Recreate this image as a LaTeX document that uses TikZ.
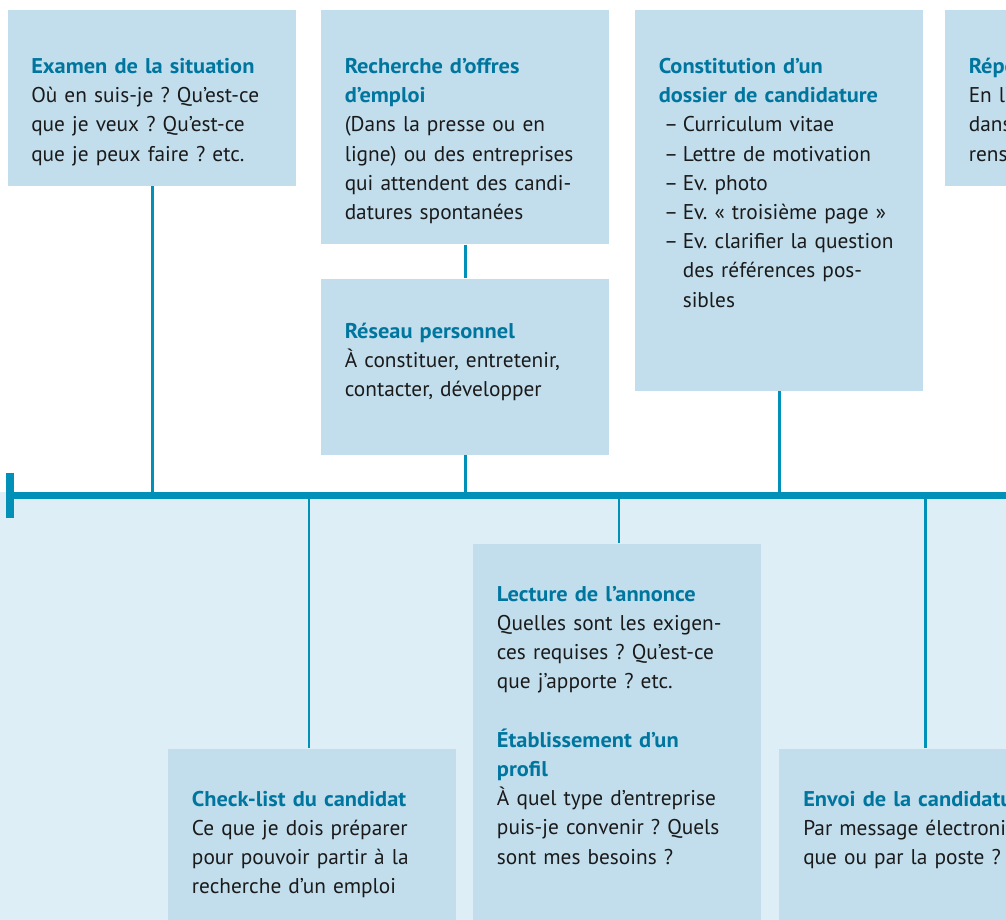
\documentclass[tikz,border=0pt]{standalone}
\usepackage{fontspec}
\setmainfont{PT Sans}[BoldFeatures={FakeStretch=1.05}]
\usetikzlibrary{calc}
\definecolor{lineblue}{HTML}{0090B8}
\definecolor{titleblue}{HTML}{00769F}
\definecolor{boxblue}{HTML}{C2DEED}
\definecolor{paleblue}{HTML}{DEEEF6}
\definecolor{ink}{HTML}{1A1A1A}
\frenchspacing
\newcommand{\ttl}[1]{{\bfseries\color{titleblue}#1}}
\newcommand{\itm}{\makebox[18pt][r]{--\hspace{3.5pt}}}
\tikzstyle{box} = [fill=boxblue, anchor=north west, inner sep=0pt, minimum width=216pt]
\tikzstyle{txt} = [anchor=base west, inner sep=0pt, text width=210pt, align=left, text=ink, font=\fontsize{16}{21.9}\selectfont]
\tikzstyle{link} = [draw=lineblue, line width=2pt]

\begin{document}
\begin{tikzpicture}[x=0.75pt,y=-0.75pt]
\useasboundingbox (0,0) rectangle (1006,920);
\clip (0,0) rectangle (1006,920);
\fill[paleblue] (0,492) rectangle (1006,920);

\node[box, minimum height=132pt](exa) at (8,9.5) {};
\node[box, minimum height=175.9pt](rec) at (321,9.5) {};
\node[box, minimum height=132pt](res) at (321,278.3) {};
\node[box, minimum height=285.8pt](con) at (635,9.5) {};
\node[box, minimum height=132pt](rep) at (945,9.5) {};
\node[box, minimum height=150pt](che) at (167.7,748.3) {};
\node[box, minimum height=300pt](lec) at (472.7,543.3) {};
\node[box, minimum height=150pt](env) at (779,748.3) {};

\coordinate (tl-a) at (6,495.5);
\coordinate (tl-b) at (1010,495.5);
\coordinate (t-che) at (309,495.5);
\coordinate (t-lec) at (619,495.5);
\coordinate (t-env) at (925.3,495.5);

\draw[link](exa.south) -- (exa.south |- tl-a);
\draw[link](rec.south) -- (res.north);
\draw[link](res.south) -- (res.south |- tl-a);
\draw[link](con.south) -- (con.south |- tl-a);
\draw[link](t-che) -- (t-che |- che.north);
\draw[link](t-lec) -- (t-lec |- lec.north);
\draw[link](t-env) -- (t-env |- env.north);

\draw[lineblue, line width=5.7pt](tl-a) -- (tl-b);
\draw[lineblue, line width=6pt](10,472.7) -- (10,518.3);

\node[txt](exa-t) at ([shift={(23,64)}]exa.north west) {\ttl{Examen de la situation}\\
Où en suis-je~? Qu’est-ce\\ que je veux~? Qu’est-ce\\ que je peux faire~? etc.};
\node[txt](rec-t) at ([shift={(23.5,64)}]rec.north west) {\ttl{Recherche d’offres}\\ \ttl{d’emploi}\\
(Dans la presse ou en\\ ligne) ou des entreprises\\ qui attendent des candi-\\ datures spontanées};
\node[txt](res-t) at ([shift={(23.5,60)}]res.north west) {\ttl{Réseau personnel}\\
À constituer, entretenir,\\ contacter, développer};
\node[txt](con-t) at ([shift={(23.5,64)}]con.north west) {\ttl{Constitution d’un}\\ \ttl{dossier de candidature}\\
\itm Curriculum vitae\\ \itm Lettre de motivation\\ \itm Ev. photo\\ \itm Ev. « troisième page »\\
\itm Ev. clarifier la question\\ \hspace*{18pt}des références pos-\\ \hspace*{18pt}sibles};
\node[txt](rep-t) at ([shift={(23.5,64)}]rep.north west) {\ttl{Réponse à l’annonce}\\
En l’absence de réponse\\ dans les délais, demander\\ renseignements};
\node[txt](che-t) at ([shift={(24,58)}]che.north west) {\ttl{Check-list du candidat}\\
Ce que je dois préparer\\ pour pouvoir partir à la\\ recherche d’un emploi};
\node[txt](lec-t) at ([shift={(24,58)}]lec.north west) {\ttl{Lecture de l’annonce}\\
Quelles sont les exigen-\\ ces requises~? Qu’est-ce\\ que j’apporte~? etc.\\[21.9pt]
\ttl{Établissement d’un}\\ \ttl{profil}\\
À quel type d’entreprise\\ puis-je convenir~? Quels\\ sont mes besoins~?};
\node[txt](env-t) at ([shift={(24,58)}]env.north west) {\ttl{Envoi de la candidature}\\
Par message électroni-\\ que ou par la poste~?};
\end{tikzpicture}
\end{document}
